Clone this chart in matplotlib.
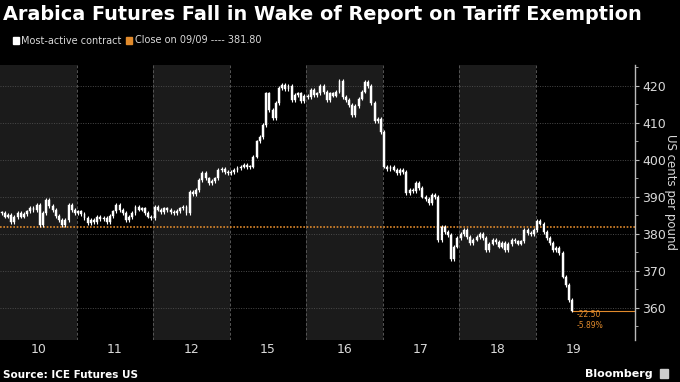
import numpy as np
import matplotlib
matplotlib.use("Agg")
import matplotlib.pyplot as plt
from matplotlib.patches import Rectangle

# ---- data (intraday closes per session) ----
day_labels = ["10", "11", "12", "15", "16", "17", "18", "19"]
month_label = "Sep 2025"
d10 = [385.7, 384.7, 385.1, 383.3, 384.6, 385.7, 384.7, 385.4, 386.1, 387.0, 386.4, 387.8,
       382.4, 385.7, 389.2, 387.6, 386.5, 384.8, 383.8, 382.4, 383.8, 387.8, 386.5, 385.7]
d11 = [386.1, 385.4, 384.3, 383.0, 383.8, 383.3, 384.7, 384.0, 384.3, 383.3, 384.9, 386.1,
       387.8, 386.4, 385.7, 383.8, 384.6, 385.7, 387.3, 386.6, 386.9, 385.7, 384.7, 384.3]
d12 = [387.4, 386.6, 386.0, 386.9, 386.4, 386.0, 385.6, 386.2, 386.9, 387.4, 385.6, 391.4,
       390.8, 391.9, 394.6, 396.4, 395.0, 393.7, 394.4, 395.0, 397.3, 397.6, 396.8, 396.4]
d15 = [396.8, 397.3, 397.8, 398.2, 398.6, 398.0, 398.2, 400.9, 405.0, 406.3, 409.5, 418.0,
       413.5, 411.3, 415.3, 419.4, 420.3, 419.2, 420.0, 416.2, 417.6, 418.0, 415.8, 417.4]
d16 = [417.0, 418.9, 417.6, 418.0, 420.0, 418.4, 416.2, 418.0, 417.4, 418.5, 421.4, 417.0,
       416.2, 414.9, 412.2, 414.5, 416.6, 418.5, 421.2, 420.0, 415.3, 410.4, 411.0, 407.6]
d17 = [398.2, 397.6, 398.2, 397.4, 396.4, 397.2, 396.8, 391.0, 391.8, 391.6, 393.7, 392.4,
       390.1, 389.4, 388.3, 390.6, 390.0, 378.4, 382.0, 380.6, 379.7, 373.2, 376.6, 379.0]
d18 = [380.0, 381.0, 379.2, 377.5, 378.5, 379.2, 380.0, 379.0, 375.7, 377.4, 378.4, 377.8,
       376.6, 377.5, 375.7, 377.2, 378.4, 378.0, 377.4, 378.0, 381.0, 380.2, 380.0, 381.0]
d19 = [383.6, 382.8, 380.6, 379.0, 377.5, 375.7, 376.2, 374.8, 368.5, 366.2, 362.2, 359.3]
sessions = [d10, d11, d12, d15, d16, d17, d18, d19]

ref_close = 381.80
ref_label = "Close on 09/09 ---- 381.80"
chg_abs = "-22.50"
chg_pct = "-5.89%"

# ---- styling ----
BG = "#000000"
BAND = "#1b1b1b"
GRID = "#4a4a4a"
TXT = "#d9d9d9"
ORANGE = "#e08a2c"
BARS_PER_DAY = 24

plt.rcParams['font.family'] = ['DejaVu Sans']

fig = plt.figure(figsize=(6.8, 3.82), dpi=100, facecolor=BG)
ax = fig.add_axes([0.0, 0.11, 635 / 680, 0.72])
ax.set_facecolor(BG)

n_days = len(sessions)
ax.set_xlim(0, 8.3)
ax.set_ylim(351.35, 425.68)

# alternating day bands + dashed separators
for i in range(n_days):
    if i % 2 == 0:
        ax.axvspan(i, i + 1, color=BAND, lw=0, zorder=0)
    if i > 0:
        ax.axvline(i, color="#555555", lw=0.7, ls=(0, (3, 2)), zorder=1)

# horizontal dotted grid
for v in range(360, 421, 10):
    ax.axhline(v, color=GRID, lw=0.7, ls=(0, (1, 1.5)), zorder=1)

# candles
xs, opens, closes = [], [], []
prev = None
for i, day in enumerate(sessions):
    for j, c in enumerate(day):
        xs.append(i + (j + 0.5) / BARS_PER_DAY)
        opens.append(c if prev is None else prev)
        closes.append(c)
        prev = c
xs = np.array(xs)
opens = np.array(opens)
closes = np.array(closes)
lo = np.minimum(opens, closes)
hi = np.maximum(opens, closes)
ax.vlines(xs, lo - 0.5, hi + 0.5, color="white", lw=0.8, zorder=3)
ax.bar(xs, np.maximum(hi - lo, 0.25), bottom=lo, width=0.6 / BARS_PER_DAY,
       color="white", edgecolor="white", lw=0.3, zorder=4)

# reference close line and last price line
ax.axhline(ref_close, color=ORANGE, lw=1.2, ls=(0, (1, 1)), zorder=2)
ax.plot([xs[-1], 8.3], [closes[-1], closes[-1]], color=ORANGE, lw=0.8, zorder=2)
ax.annotate(chg_abs, (xs[-1], closes[-1]), xytext=(3, -3), textcoords="offset points",
            color=ORANGE, fontsize=5.5, ha="left", va="center")
ax.annotate(chg_pct, (xs[-1], closes[-1]), xytext=(3, -10.5), textcoords="offset points",
            color=ORANGE, fontsize=5.5, ha="left", va="center")

# axes / ticks
for s in ["top", "left", "bottom"]:
    ax.spines[s].set_visible(False)
ax.spines["right"].set_color("#bbbbbb")
ax.spines["right"].set_linewidth(1.0)
ax.yaxis.tick_right()
ax.set_yticks(range(360, 421, 10))
ax.set_yticks(range(355, 426, 10), minor=True)
ax.tick_params(axis="y", which="major", colors="#bbbbbb", labelcolor=TXT,
               labelsize=9, length=3, width=0.8, pad=2)
ax.tick_params(axis="y", which="minor", colors="#bbbbbb", length=2, width=0.6)
ax.set_xticks(np.arange(n_days) + 0.5)
ax.set_xticklabels(day_labels)
ax.tick_params(axis="x", length=0, labelcolor=TXT, labelsize=9, pad=2)
fig.text(671 / 680, 1 - 192 / 382, "US cents per pound", color=TXT, fontsize=8.5,
         rotation=-90, ha="center", va="center")
ax.text(4.0, -0.145, month_label, transform=ax.get_yaxis_transform(), color=TXT,
        fontsize=9, ha="center", va="center")

# title, legend, footer
fig.text(0.004, 0.962, "Arabica Futures Fall in Wake of Report on Tariff Exemption",
         color="white", fontsize=13.9, weight="bold", va="center", ha="left")
fig.patches.append(Rectangle((13 / 680, 1 - 44 / 382), 6 / 680, 7 / 382,
                             transform=fig.transFigure, color="white"))
fig.text(21 / 680, 1 - 40.5 / 382, "Most-active contract", color=TXT, fontsize=7,
         va="center", ha="left")
fig.patches.append(Rectangle((126 / 680, 1 - 44 / 382), 6 / 680, 7 / 382,
                             transform=fig.transFigure, color=ORANGE))
fig.text(135 / 680, 1 - 40.5 / 382, ref_label, color=TXT, fontsize=7,
         va="center", ha="left")
fig.text(0.005, 1 - 375 / 382, "Source: ICE Futures US", color="white", fontsize=7.5,
         weight="bold", va="center", ha="left")
fig.text(653 / 680, 1 - 374 / 382, "Bloomberg", color="white", fontsize=8,
         weight="bold", va="center", ha="right")
fig.patches.append(Rectangle((660 / 680, 1 - 378 / 382), 8 / 680, 9 / 382,
                             transform=fig.transFigure, color="#cccccc"))

fig.savefig("out.png", dpi=100, facecolor=BG)
